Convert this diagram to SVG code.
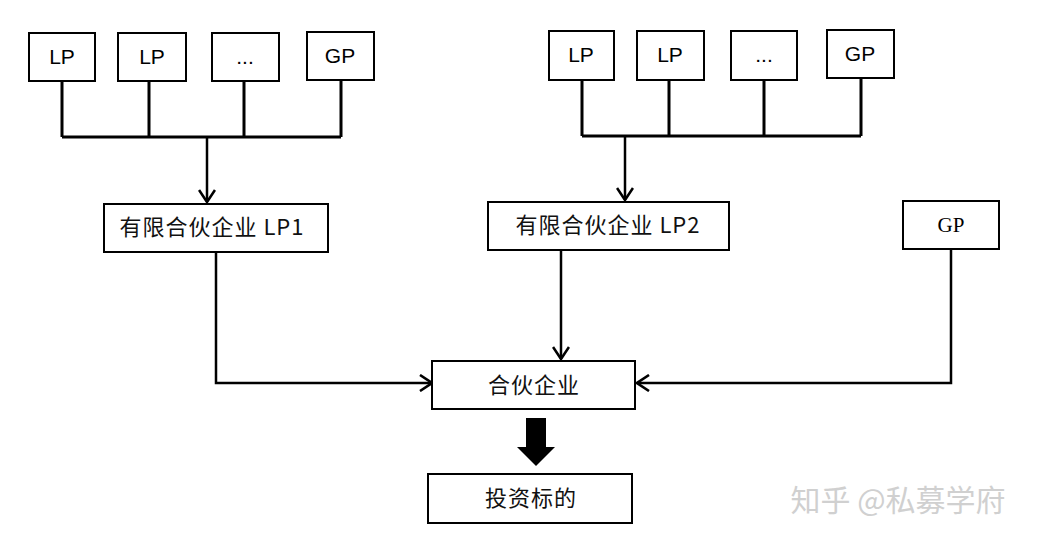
<svg xmlns="http://www.w3.org/2000/svg" width="1037" height="544" viewBox="0 0 1037 544">
<style>
.box{fill:#fff;stroke:#000;stroke-width:2}
.ln{fill:none;stroke:#000;stroke-width:3}
.ar{fill:none;stroke:#000;stroke-width:2.5}
.t{font-family:"Liberation Sans","Noto Sans CJK SC",sans-serif;font-size:21px;fill:#000;text-anchor:middle}
.c{font-family:"Noto Sans CJK SC",sans-serif;font-size:22px;letter-spacing:1px;fill:#111;text-anchor:middle}
.s{font-family:"Liberation Serif","Noto Sans CJK SC",serif;font-size:21px;fill:#000;text-anchor:middle}
</style>
<defs>
<marker id="v" viewBox="0 0 14 18" refX="13" refY="9" markerWidth="14" markerHeight="18" markerUnits="userSpaceOnUse" orient="auto">
<path d="M1,1 L13,9 L1,17" fill="none" stroke="#000" stroke-width="2.6"/>
</marker>
</defs>
<rect width="1037" height="544" fill="#fff"/>
<g id="connectors">
<path class="ln" d="M62,81 V137 M149,81 V137 M244,81 V137 M341,80 V137 M62,137 H341"/>
<path class="ar" d="M207,137 V202" marker-end="url(#v)"/>
<path class="ln" d="M582,80 V136 M669,80 V136 M764,80 V136 M861,78 V136 M582,136 H861"/>
<path class="ar" d="M625,136 V200" marker-end="url(#v)"/>
<path class="ar" d="M216,252 V383 H432" marker-end="url(#v)"/>
<path class="ar" d="M561,250 V359" marker-end="url(#v)"/>
<path class="ar" d="M951,249 V383 H637" marker-end="url(#v)"/>
<polygon points="526,418 546,418 546,447 555,447 536,466 517,447 526,447" fill="#000"/>
</g>
<g id="lp-a1"><rect class="box" x="29" y="33" width="66" height="48"/><text class="t" x="62" y="64">LP</text></g>
<g id="lp-a2"><rect class="box" x="118" y="33" width="68" height="48"/><text class="t" x="152" y="64">LP</text></g>
<g id="lp-a3"><rect class="box" x="212" y="33" width="67" height="48"/><text class="t" x="245" y="64">...</text></g>
<g id="gp-a"><rect class="box" x="307" y="32" width="67" height="48"/><text class="t" x="340" y="63">GP</text></g>
<g id="lp-b1"><rect class="box" x="549" y="31" width="65" height="49"/><text class="t" x="581" y="62">LP</text></g>
<g id="lp-b2"><rect class="box" x="637" y="31" width="67" height="49"/><text class="t" x="670" y="62">LP</text></g>
<g id="lp-b3"><rect class="box" x="731" y="31" width="66" height="49"/><text class="t" x="764" y="62">...</text></g>
<g id="gp-b"><rect class="box" x="827" y="30" width="67" height="48"/><text class="t" x="860" y="61">GP</text></g>
<g id="lp1"><rect class="box" x="104" y="204" width="224" height="48"/><text class="c" x="212" y="235">有限合伙企业 LP1</text></g>
<g id="lp2"><rect class="box" x="488" y="202" width="241" height="48"/><text class="c" x="608" y="233">有限合伙企业 LP2</text></g>
<g id="gp"><rect class="box" x="903" y="201" width="96" height="48"/><text class="s" x="951" y="232">GP</text></g>
<g id="partnership"><rect class="box" x="432" y="361" width="203" height="48"/><text class="c" x="534" y="393">合伙企业</text></g>
<g id="target"><rect class="box" x="428" y="474" width="204" height="49"/><text class="c" x="531" y="506">投资标的</text></g>
<text x="898" y="511" font-family="Noto Sans CJK SC,sans-serif" font-size="30" fill="#d0d0d0" text-anchor="middle">知乎 @私募学府</text>
</svg>
